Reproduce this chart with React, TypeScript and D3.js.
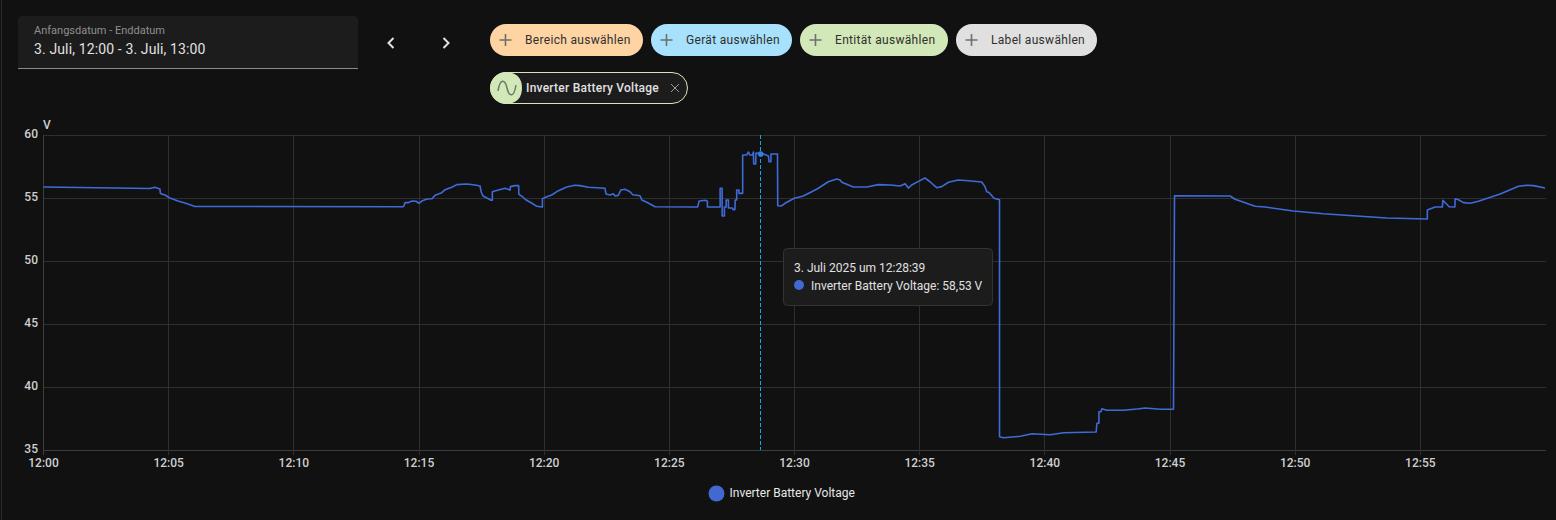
import React from "react";
import * as d3 from "d3";

const seriesName = "Inverter Battery Voltage";
// minutes after 12:00
const minutes = [0,4.25,4.45,4.65,4.67,4.85,5.05,5.37,5.65,6.05,14.36,14.40,14.44,14.56,14.72,14.88,15.00,15.11,15.32,15.52,15.64,15.91,16.04,16.31,16.51,16.91,17.24,17.44,17.48,17.55,17.71,17.88,17.93,17.93,18.17,18.44,18.64,18.65,18.84,18.98,18.99,19.14,19.24,19.37,19.50,19.70,19.93,19.93,20.10,20.30,20.57,20.90,21.23,21.43,21.77,22.43,22.47,22.63,22.76,22.83,22.96,23.06,23.23,23.43,23.54,23.83,23.90,24.10,24.43,26.13,26.19,26.43,26.52,26.52,27.03,27.03,27.11,27.11,27.20,27.20,27.27,27.27,27.36,27.36,27.52,27.54,27.62,27.63,27.69,27.69,27.78,27.78,27.93,27.93,28.09,28.16,28.22,28.32,28.36,28.37,28.45,28.46,28.65,28.76,28.96,28.98,29.06,29.06,29.32,29.33,29.48,29.62,29.99,30.35,30.69,30.95,31.35,31.69,31.82,31.89,32.35,32.89,33.35,33.82,34.22,34.42,34.55,34.68,34.95,35.21,35.41,35.68,35.88,36.15,36.54,36.95,37.48,37.61,37.68,37.77,37.97,38.19,38.19,38.35,39.02,39.49,40.22,40.75,42.05,42.08,42.16,42.16,42.24,42.28,42.48,43.14,43.68,44.01,44.61,45.14,45.18,47.40,47.60,48.40,48.80,49.93,51.13,52.46,53.66,55.28,55.28,55.59,55.88,55.90,56.15,56.38,56.39,56.52,56.72,56.99,57.32,58.19,58.92,59.26,59.52,59.98];
const volts = [55.91,55.79,55.89,55.75,55.40,55.28,55.04,54.80,54.64,54.37,54.34,54.43,54.67,54.67,54.80,54.78,54.62,54.80,54.96,54.98,55.25,55.46,55.70,55.89,56.10,56.15,56.07,55.99,55.54,55.22,55.04,54.86,54.86,55.54,55.67,55.81,55.67,55.94,56.02,56.02,55.33,55.14,54.94,54.78,54.64,54.38,54.32,54.98,55.14,55.28,55.62,55.91,56.05,56.02,55.89,55.81,55.36,55.28,55.38,55.20,55.25,55.67,55.73,55.54,55.30,55.22,54.88,54.70,54.35,54.32,54.80,54.86,54.78,54.32,54.32,55.81,55.81,53.61,53.61,54.32,54.32,54.88,54.88,54.25,54.25,54.12,54.12,54.88,54.88,55.67,55.67,55.41,55.41,58.45,58.45,58.69,58.45,58.45,58.69,57.74,57.74,58.61,58.53,58.53,58.37,57.92,57.92,58.53,58.53,54.43,54.41,54.62,55.02,55.20,55.54,55.81,56.33,56.55,56.47,56.29,55.91,55.91,56.10,56.07,55.99,56.17,55.83,56.07,56.36,56.63,56.33,55.86,55.94,56.29,56.47,56.41,56.31,55.94,55.54,55.48,55.02,54.90,36.09,36.01,36.13,36.33,36.25,36.41,36.47,37.16,37.16,38.08,38.08,38.32,38.19,38.19,38.29,38.37,38.27,38.27,55.22,55.20,54.94,54.38,54.32,54.01,53.79,53.61,53.45,53.37,54.09,54.32,54.32,54.86,54.35,54.32,54.98,54.90,54.67,54.62,54.78,55.36,55.97,56.05,56.02,55.83];
const yTicks = [35, 40, 45, 50, 55, 60];
const xTicks = [0, 5, 10, 15, 20, 25, 30, 35, 40, 45, 50, 55];
const xTickLabels = ["12:00","12:05","12:10","12:15","12:20","12:25","12:30","12:35","12:40","12:45","12:50","12:55"];
const hoverMinute = 28.65;
const hoverVolt = 58.53;
const chipLabels = ["Bereich auswählen", "Gerät auswählen", "Entität auswählen", "Label auswählen"];
const chipColors = ["#ffd4a3", "#a8e1fb", "#d3e8b8", "#e0e0e0"];
const chipLefts = [490, 651, 800, 956];
const chipRights = [643, 792, 948, 1097];

const FONT = "Roboto, sans-serif";
const LINE = "#4269d0";

export default function App() {
  const x = d3.scaleLinear().domain([0, 60]).range([43.5, 1545.5]);
  const y = d3.scaleLinear().domain([35, 60]).range([450.5, 135.5]);
  const line = d3.line<number>().x((m) => x(m)).y((_, i) => y(volts[i]));
  const wave = "M498 91 C 500 78, 505 79, 507 88 C 509 97, 514 98, 516 85";
  return (
    <svg width={1556} height={520} style={{ position: "fixed", left: 0, top: 0, background: "#111111", fontFamily: FONT }}>
      <rect x={1} y={0} width={1} height={520} fill="#2a2a2a" />
      {/* date picker */}
      <path d="M18 68 V20 a4 4 0 0 1 4 -4 H354 a4 4 0 0 1 4 4 V68 Z" fill="#1c1c1c" />
      <rect x={18} y={68} width={340} height={1} fill="#8a8a8a" />
      <text x={34} y={34} fontSize={11} fill="#8f8f8f">Anfangsdatum - Enddatum</text>
      <text x={34} y={54} fontSize={14} letterSpacing={0.13} fill="#e1e1e1">3. Juli, 12:00 - 3. Juli, 13:00</text>
      <path d="M393.5 38 L388.5 43 L393.5 48" fill="none" stroke="#e1e1e1" strokeWidth={2} />
      <path d="M443.5 38 L448.5 43 L443.5 48" fill="none" stroke="#e1e1e1" strokeWidth={2} />
      {/* chips */}
      {chipLabels.map((c, i) => (
        <g key={c}>
          <rect x={chipLefts[i]} y={24} width={chipRights[i] - chipLefts[i]} height={32} rx={16} fill={chipColors[i]} />
          <path d={`M${chipLefts[i] + 9.5} 40 h12 M${chipLefts[i] + 15.5} 34 v12`} stroke="#6f6f6f" strokeWidth={1.6} fill="none" />
          <text x={chipLefts[i] + 35} y={44} fontSize={12} letterSpacing={0.31} fill="#2f2f2f">{c}</text>
        </g>
      ))}
      <rect x={490.5} y={72.5} width={197} height={31} rx={15.5} fill="#1c1c1c" stroke="#d3e8b8" />
      <path d="M506 72 A16 16 0 0 0 506 104 H508 Q522 102 522 88 Q522 74 508 72 Z" fill="#d3e8b8" />
      <path d={wave} fill="none" stroke="#6f7a66" strokeWidth={1.5} />
      <text x={526} y={92} fontSize={12} fontWeight={500} letterSpacing={0.24} fill="#e1e1e1">{seriesName}</text>
      <path d="M671 84 l8 8 M679 84 l-8 8" stroke="#9a9a9a" strokeWidth={1} />
      {/* grid */}
      {yTicks.map((t) => (
        <line key={t} x1={43} x2={1546} y1={Math.floor(y(t)) + 0.5} y2={Math.floor(y(t)) + 0.5} stroke={t === 35 ? "#3d3d3d" : "#2f2f2f"} />
      ))}
      {xTicks.map((t) => (
        <line key={t} x1={Math.floor(x(t)) + 0.5} x2={Math.floor(x(t)) + 0.5} y1={135} y2={455} stroke={t === 0 ? "#3d3d3d" : "#2f2f2f"} />
      ))}
      {/* axes text */}
      {yTicks.map((t) => (
        <text key={t} x={38} y={y(t) + 2} textAnchor="end" fontSize={12} fontWeight={500} fill="#cfcfcf">{t}</text>
      ))}
      <text x={43} y={129} fontSize={12} fontWeight={500} fill="#cfcfcf">V</text>
      {xTicks.map((t, i) => (
        <text key={t} x={x(t)} y={467} textAnchor="middle" fontSize={12} fontWeight={500} fill="#cfcfcf">{xTickLabels[i]}</text>
      ))}
      {/* series */}
      <path d={line(minutes) ?? ""} fill="none" stroke="#3f6bd8" strokeWidth={1.6} strokeLinejoin="round" />
      {/* crosshair */}
      <line x1={760.5} x2={760.5} y1={135} y2={450} stroke="#12a5ee" strokeDasharray="4 2" />
      <circle cx={x(hoverMinute)} cy={y(hoverVolt)} r={2.8} fill="#2f7fe0" />
      {/* tooltip */}
      <rect x={783.5} y={248.5} width={209} height={57} rx={4} fill="#1c1c1c" stroke="#333333" />
      <text x={794} y={272} fontSize={12} fontWeight={400} fill="#e1e1e1">3. Juli 2025 um 12:28:39</text>
      <circle cx={799} cy={285} r={5} fill={LINE} />
      <text x={811} y={289.5} fontSize={12} fontWeight={400} fill="#e1e1e1">{seriesName}: 58,53 V</text>
      {/* legend */}
      <circle cx={716.5} cy={493.5} r={8} fill={LINE} />
      <text x={729.5} y={497} fontSize={12} fill="#e8e8e8">{seriesName}</text>
    </svg>
  );
}
